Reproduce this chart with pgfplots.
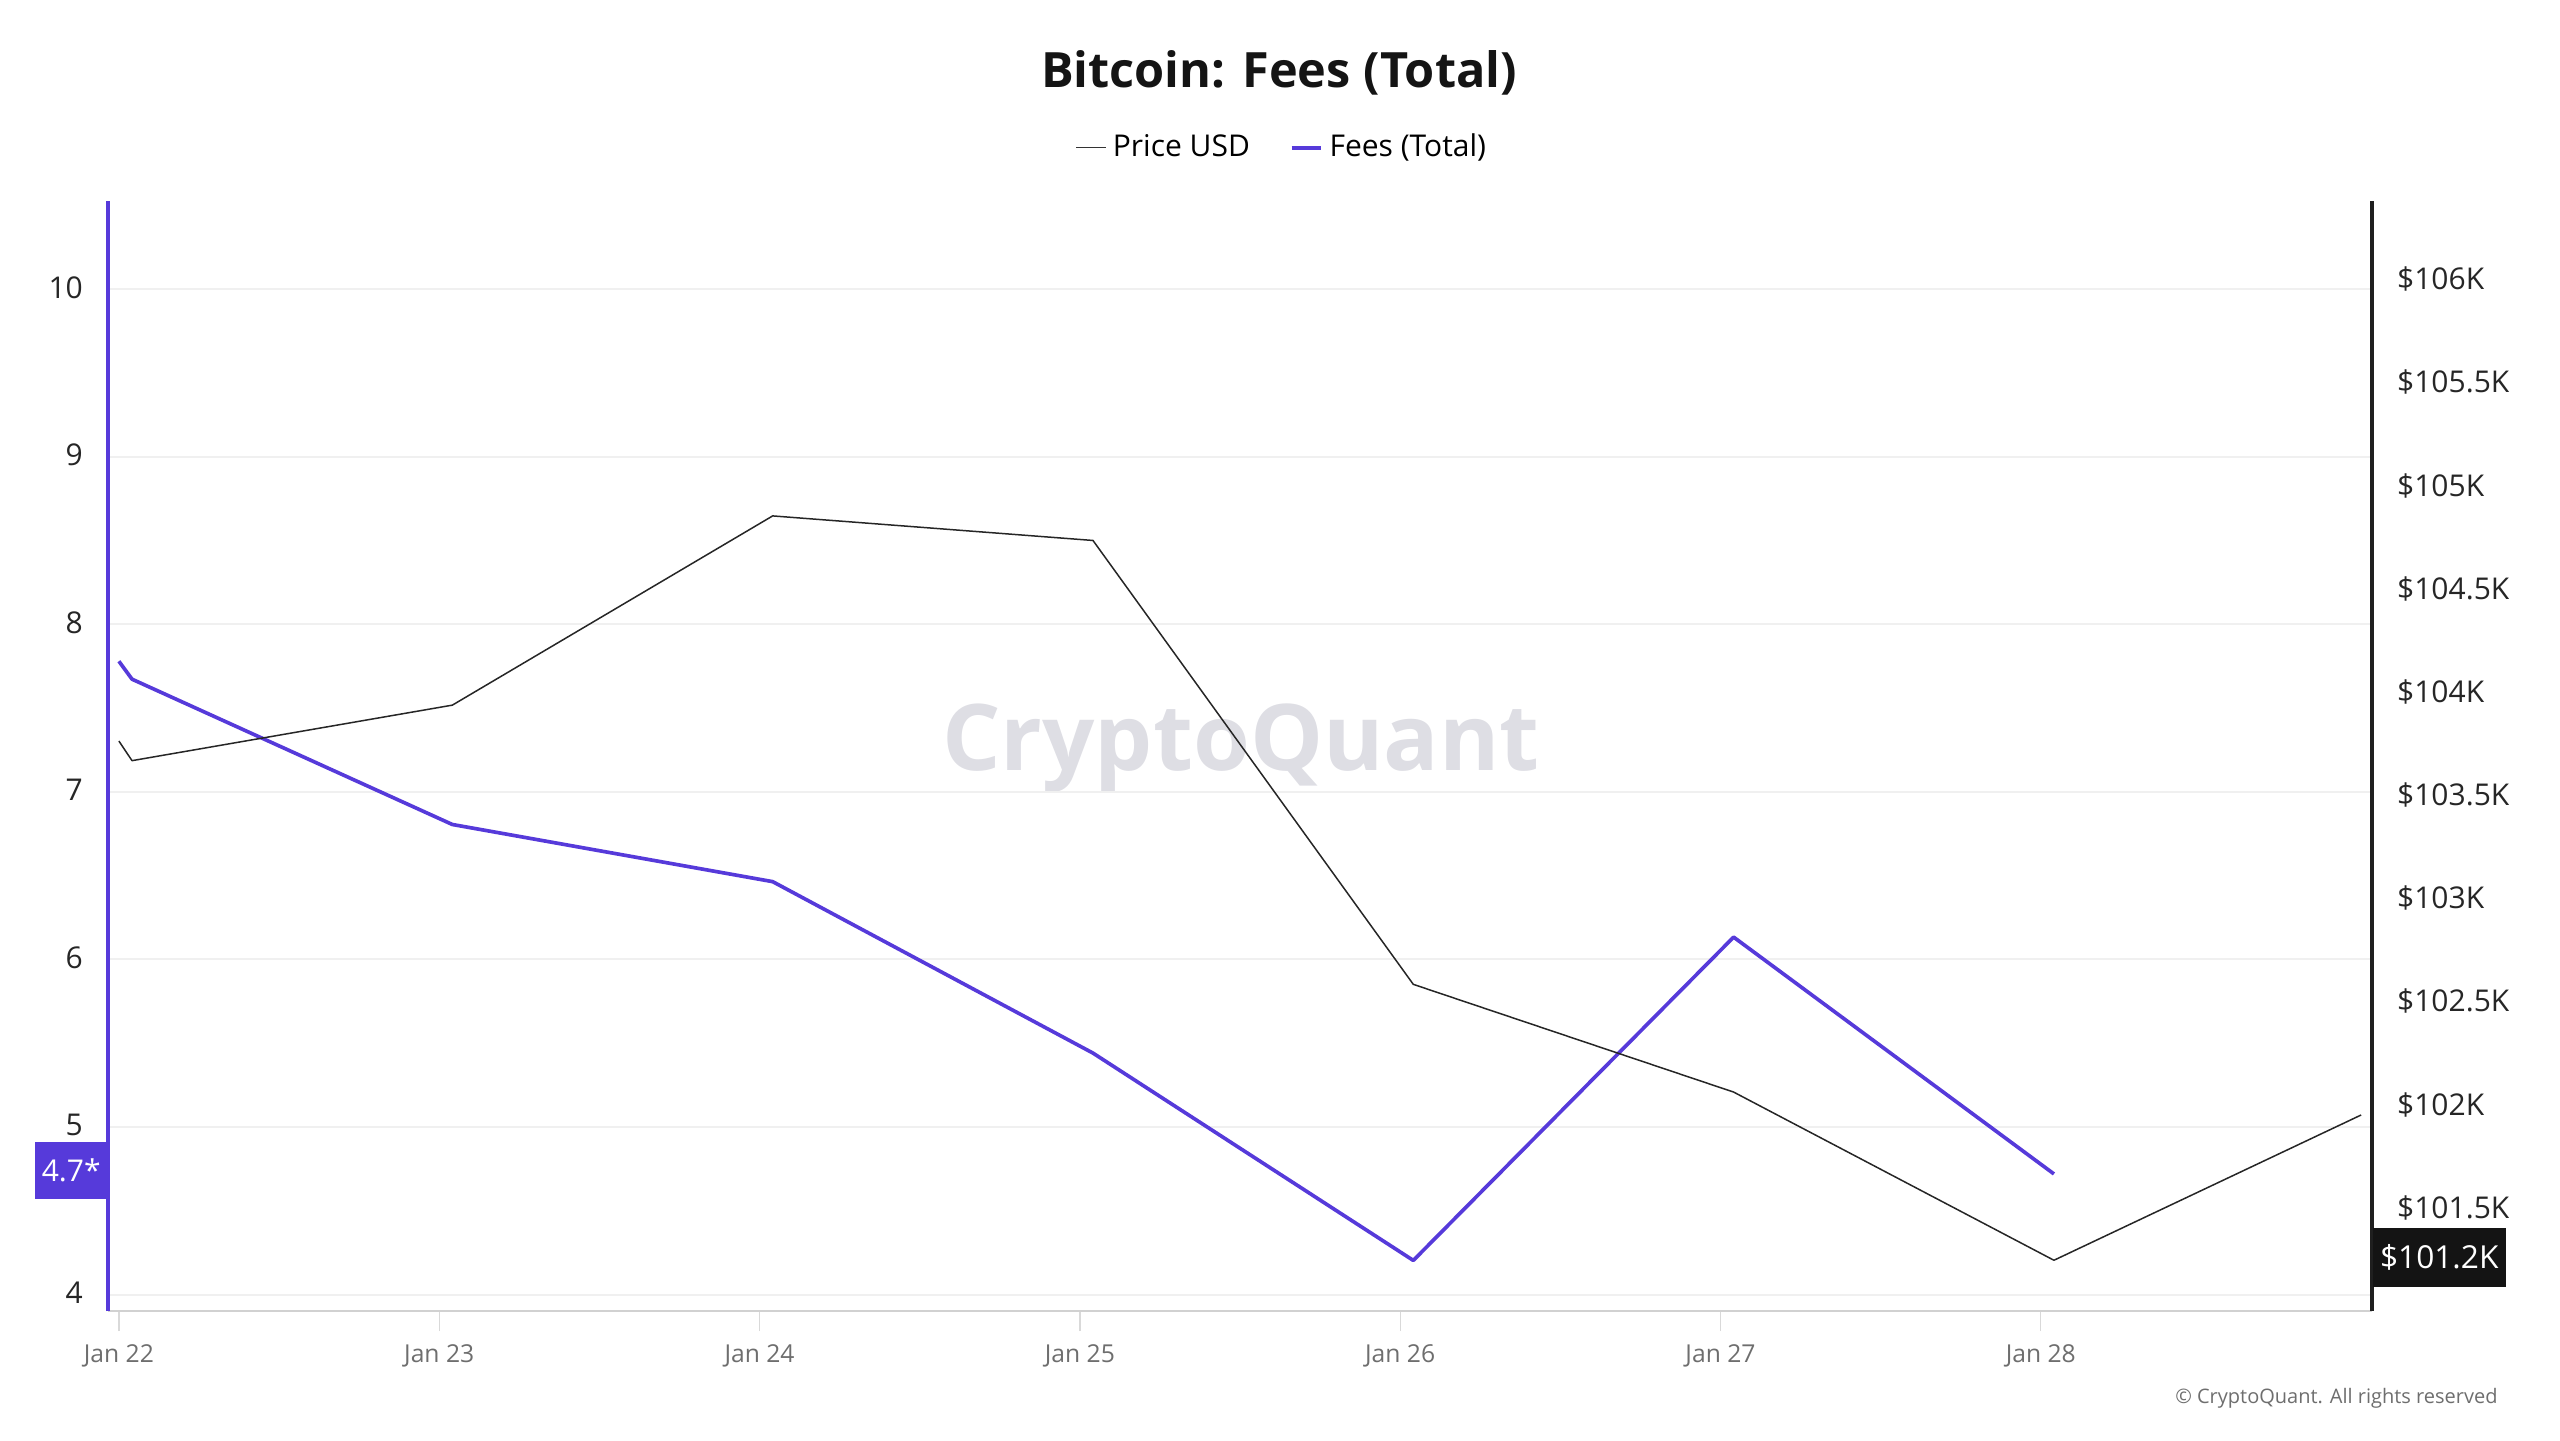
\documentclass[border=0pt]{standalone}
\usepackage{pgfplots}
\pgfplotsset{compat=1.18}
\usepackage{fontspec}
\setmainfont{Open Sans}
\definecolor{feepurple}{RGB}{86,58,218}
\definecolor{gridgray}{RGB}{240,240,240}
\definecolor{ticktext}{RGB}{110,110,110}
\definecolor{wmgray}{RGB}{222,222,228}
\pgfplotsset{legend image code/.code={\draw[#1] (0pt,0pt) -- (8.8pt,0pt);}}
\begin{document}
\begin{tikzpicture}
\path[use as bounding box] (0,0) rectangle (768pt,-432pt);
% watermark
\node[text=wmgray, font=\fontsize{27.6}{30}\selectfont\bfseries] at (372.3pt,-224.4pt) {CryptoQuant};
% title
\node[font=\fontsize{14.6}{17}\selectfont\bfseries, text=black!92] at (383.7pt,-21.9pt) {Bitcoin: Fees (Total)};
% copyright
\node[anchor=east, text=ticktext, font=\fontsize{6}{7}\selectfont] at (752.8pt,-419.4pt) {\textcopyright\ CryptoQuant. All rights reserved};

% Fees axis (left)
\begin{axis}[
  at={(32.4pt,-393.3pt)}, anchor=south west,
  scale only axis, width=679.2pt, height=333pt,
  xmin=-0.034, xmax=7.034,
  ymin=3.902, ymax=10.525,
  axis x line*=bottom, axis y line*=left,
  x axis line style={draw=black!18, line width=0.6pt, -},
  y axis line style={draw=feepurple, line width=1.2pt, -},
  xtick={0,1,2,3,4,5,6},
  xticklabels={Jan 22,Jan 23,Jan 24,Jan 25,Jan 26,Jan 27,Jan 28},
  xtick style={draw=black!15, line width=0.4pt},
  tick align=outside, major tick length=6pt,
  xticklabel style={text=ticktext, font=\fontsize{7.4}{9}\selectfont, yshift=-0.6pt},
  ytick={4,5,6,7,8,9,10},
  ytick style={draw=none},
  yticklabel style={text=black!85, font=\fontsize{9}{11}\selectfont, xshift=2pt, yshift=0.5pt},
  /pgf/number format/assume math mode=true,
  ymajorgrids, grid style={draw=gridgray, line width=0.6pt},
  clip=false,
  legend style={at={(0.5195,1.048)}, anchor=center, draw=none, fill=none,
    legend columns=2, font=\fontsize{9}{11}\selectfont,
    /tikz/every even column/.append style={column sep=10pt}},
  legend cell align=left,
]
\addlegendimage{black!80, line width=0.4pt}
\addlegendentry{Price USD}
\addplot[feepurple, line width=1.1pt, line join=round] coordinates {
  (0,7.779) (0.041,7.672) (1.041,6.805) (2.041,6.464) (3.041,5.441)
  (4.041,4.204) (5.041,6.133) (6.041,4.720)
};
\addlegendentry{Fees (Total)}
\node[fill=feepurple, text=white, anchor=east, minimum height=17pt, inner xsep=2pt,
  font=\fontsize{9}{11}\selectfont] at (axis cs:-0.034,4.74) {4.7*};
\end{axis}

% Price axis (right)
\begin{axis}[
  at={(32.4pt,-393.3pt)}, anchor=south west,
  scale only axis, width=679.2pt, height=333pt,
  xmin=-0.034, xmax=7.034,
  ymin=101000, ymax=106379,
  scaled y ticks=false,
  axis x line=none, axis y line*=right,
  y axis line style={draw=black!88, line width=1.3pt, -},
  ytick={101500,102000,102500,103000,103500,104000,104500,105000,105500,106000},
  yticklabels={\$101.5K,\$102K,\$102.5K,\$103K,\$103.5K,\$104K,\$104.5K,\$105K,\$105.5K,\$106K},
  ytick style={draw=none},
  yticklabel style={text=black!85, font=\fontsize{9}{11}\selectfont, anchor=west, xshift=4pt},
  clip=false,
]
\addplot[black!85, line width=0.45pt, line join=round] coordinates {
  (0,103762) (0.041,103667) (1.041,103936) (2.041,104853) (3.041,104734)
  (4.041,102583) (5.041,102061) (6.041,101246) (7,101950)
};
\node[fill=black!92, text=white, anchor=west, minimum height=17.5pt, inner xsep=2.2pt,
  font=\fontsize{9.5}{11}\selectfont] at (axis cs:7.034,101260) {\$101.2K};
\end{axis}
\end{tikzpicture}
\end{document}
